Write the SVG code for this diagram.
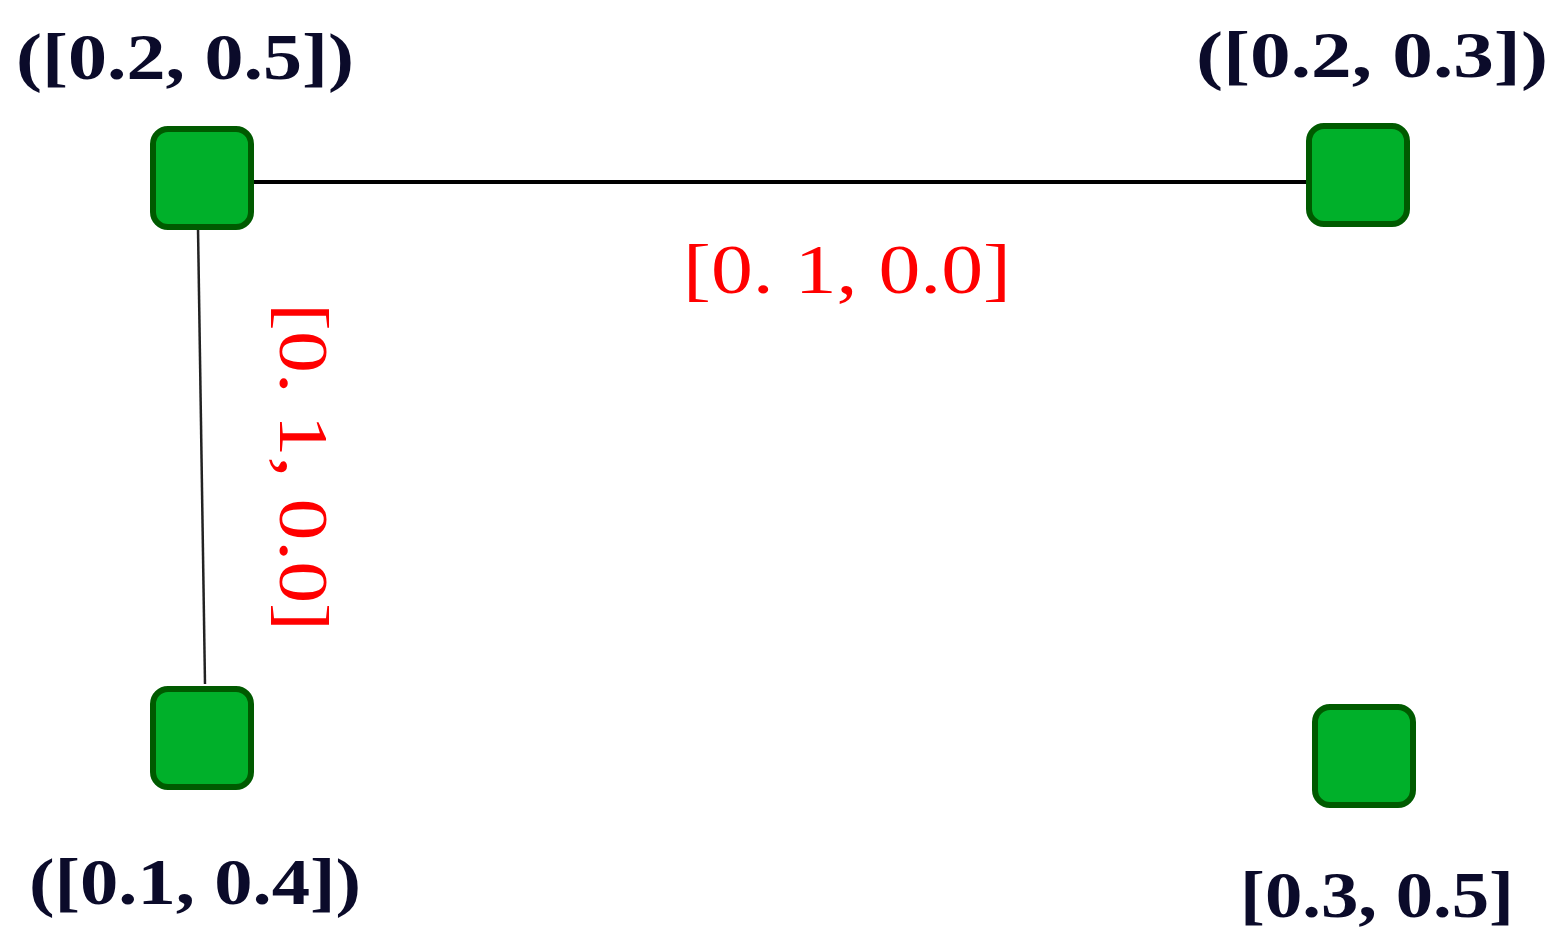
<svg xmlns="http://www.w3.org/2000/svg" width="1561" height="948" viewBox="0 0 1561 948">
<style>
.node{fill:#00B02A;stroke:#005A00;stroke-width:6}
.lbl{font-family:"Liberation Serif","DejaVu Serif",serif;font-weight:bold;font-size:66px;fill:#0B0B2A}
.elbl{font-family:"Liberation Serif","DejaVu Serif",serif;font-size:70px;fill:#FF0000}
</style>
<rect width="1561" height="948" fill="#FFFFFF"/>
<g id="connectors">
<line x1="254" y1="182" x2="1318" y2="182" stroke="#000" stroke-width="4"/>
<line x1="198" y1="228" x2="205" y2="684" stroke="#222" stroke-width="2.5"/>
<text class="elbl" x="847" y="293" text-anchor="middle" textLength="328" lengthAdjust="spacingAndGlyphs">[0. 1, 0.0]</text>
<text class="elbl" transform="translate(280,467) rotate(90)" x="0" y="0" text-anchor="middle" textLength="328" lengthAdjust="spacingAndGlyphs">[0. 1, 0.0]</text>
</g>
<g id="n1">
<rect class="node" x="153" y="129" width="98" height="98" rx="15"/>
<text class="lbl" x="185" y="79" text-anchor="middle" textLength="338" lengthAdjust="spacingAndGlyphs">([0.2, 0.5])</text>
</g>
<g id="n2">
<rect class="node" x="1309" y="126" width="98" height="98" rx="15"/>
<text class="lbl" x="1372" y="77" text-anchor="middle" textLength="352" lengthAdjust="spacingAndGlyphs">([0.2, 0.3])</text>
</g>
<g id="n3">
<rect class="node" x="153" y="689" width="98" height="98" rx="15"/>
<text class="lbl" x="195" y="904" text-anchor="middle" textLength="332" lengthAdjust="spacingAndGlyphs">([0.1, 0.4])</text>
</g>
<g id="n4">
<rect class="node" x="1315" y="707" width="98" height="98" rx="15"/>
<text class="lbl" x="1377" y="917" text-anchor="middle" textLength="274" lengthAdjust="spacingAndGlyphs">[0.3, 0.5]</text>
</g>
</svg>
